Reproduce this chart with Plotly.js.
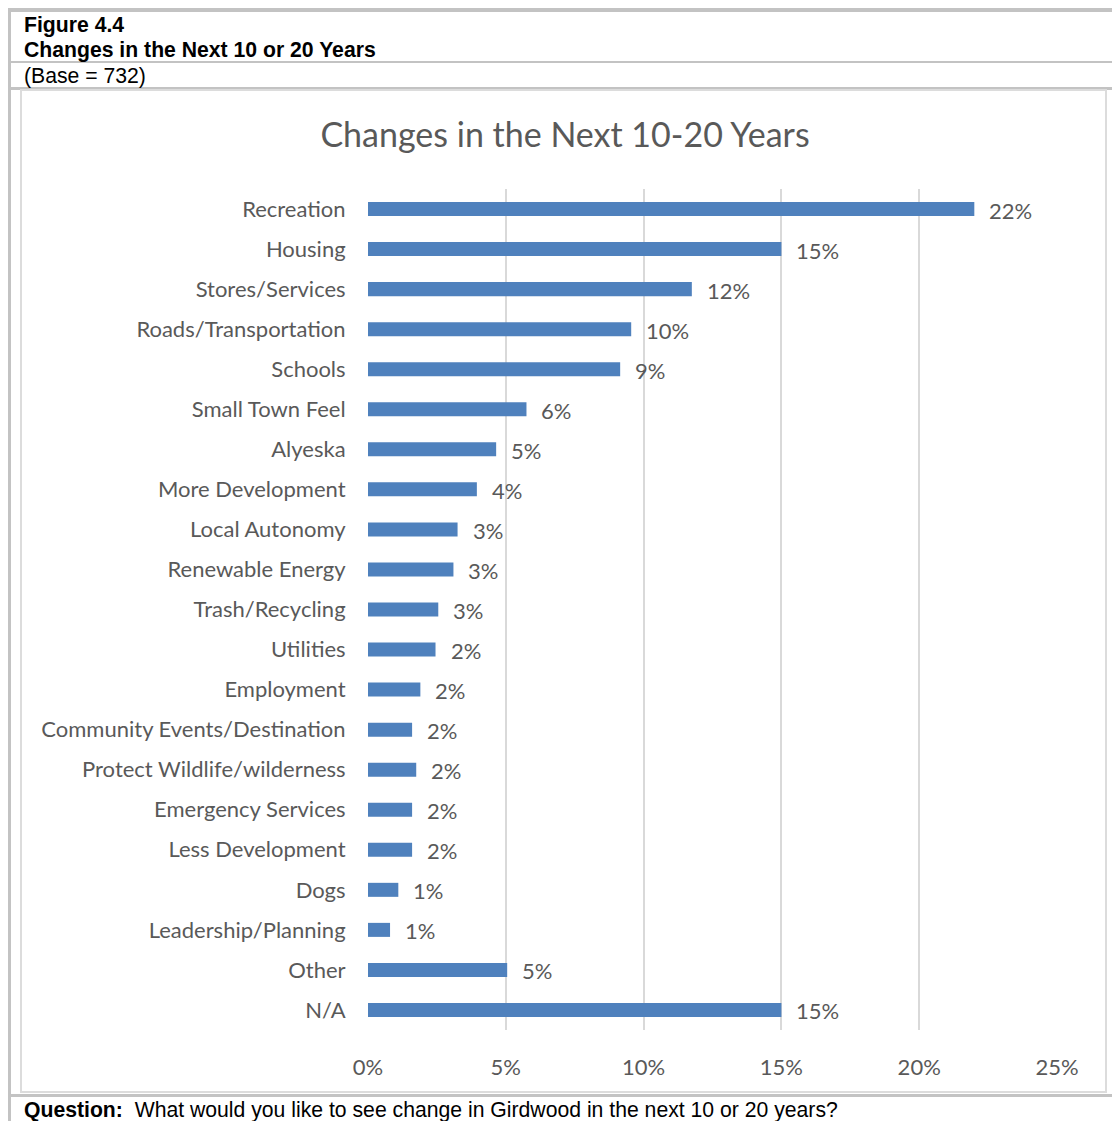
<!DOCTYPE html>
<html>
<head>
<meta charset="utf-8">
<script src="https://cdn.plot.ly/plotly-3.0.1.min.js"></script>
<style>
  html, body { margin: 0; padding: 0; background: #ffffff; }
  #chart { width: 1112px; height: 1121px; }
</style>
</head>
<body>
<div id="chart"></div>
<script>
// ---- Data ----
const categories = [
  "Recreation", "Housing", "Stores/Services", "Roads/Transportation", "Schools",
  "Small Town Feel", "Alyeska", "More Development", "Local Autonomy", "Renewable Energy",
  "Trash/Recycling", "Utilities", "Employment", "Community Events/Destination",
  "Protect Wildlife/wilderness", "Emergency Services", "Less Development", "Dogs",
  "Leadership/Planning", "Other", "N/A"
];
const percentValues = [
  22.0, 15.0, 11.75, 9.55, 9.15,
  5.75, 4.65, 3.95, 3.25, 3.1,
  2.55, 2.45, 1.9, 1.6,
  1.75, 1.6, 1.6, 1.1,
  0.8, 5.05, 15.0
];
const valueLabels = [
  "22%", "15%", "12%", "10%", "9%",
  "6%", "5%", "4%", "3%", "3%",
  "3%", "2%", "2%", "2%",
  "2%", "2%", "2%", "1%",
  "1%", "5%", "15%"
];
const xTickValues = [0, 5, 10, 15, 20, 25];
const xTickLabels = ["0%", "5%", "10%", "15%", "20%", "25%"];

// ---- Layout geometry (pixels) ----
const W = 1112, H = 1121;
const M = { l: 368, r: 55, t: 189, b: 91 };
const PW = W - M.l - M.r, PH = H - M.t - M.b;
const px = x => (x - M.l) / PW;
const py = y => 1 - (y - M.t) / PH;

const frame = "#c3c3c3";
const light = "#dcdcdc";
const textGray = "#595959";
const font = "Lato, 'Open Sans', sans-serif";
const hdrFont = "'Liberation Sans', Arial, sans-serif";
const hdrSize = 21.2;

function rectLine(x0, y0, x1, y1, color) {
  return { type: "rect", xref: "paper", yref: "paper", layer: "below",
    x0: px(x0), x1: px(x1), y0: py(y1), y1: py(y0),
    fillcolor: color, line: { width: 0 } };
}

const shapes = [
  // outer frame
  rectLine(8, 8, 1112, 12, frame),
  rectLine(8, 8, 11, 1121, frame),
  rectLine(11, 61, 1112, 63, frame),
  rectLine(11, 87, 1112, 90, frame),
  rectLine(11, 1094, 1112, 1097, frame),
  // inner chart box
  { type: "rect", xref: "paper", yref: "paper", layer: "below",
    x0: px(21), x1: px(1106), y0: py(1092), y1: py(90),
    fillcolor: "rgba(0,0,0,0)", line: { color: light, width: 2 } }
];

const annotations = [
  { text: "<b>Figure 4.4</b>", x: px(22), y: py(25), xref: "paper", yref: "paper",
    xanchor: "left", yanchor: "middle", showarrow: false,
    font: { family: hdrFont, size: hdrSize, color: "#000" } },
  { text: "<b>Changes in the Next 10 or 20 Years</b>", x: px(22), y: py(50), xref: "paper", yref: "paper",
    xanchor: "left", yanchor: "middle", showarrow: false,
    font: { family: hdrFont, size: hdrSize, color: "#000" } },
  { text: "(Base = 732)", x: px(22), y: py(76), xref: "paper", yref: "paper",
    xanchor: "left", yanchor: "middle", showarrow: false,
    font: { family: hdrFont, size: hdrSize, color: "#000" } },
  { text: "<b>Question:</b>  What would you like to see change in Girdwood in the next 10 or 20 years?",
    x: px(22), y: py(1110), xref: "paper", yref: "paper",
    xanchor: "left", yanchor: "middle", showarrow: false,
    font: { family: hdrFont, size: hdrSize, color: "#000" } }
];

categories.forEach((c, i) => {
  annotations.push({
    x: percentValues[i], y: c, xref: "x", yref: "y",
    text: valueLabels[i], showarrow: false,
    xanchor: "left", yanchor: "middle", xshift: 13, yshift: -1,
    font: { family: font, size: 22, color: textGray }
  });
});

const trace = {
  type: "bar", orientation: "h",
  x: percentValues, y: categories,
  marker: { color: "#4f81bd", line: { width: 0 } },
  hoverinfo: "none"
};

const layout = {
  width: W, height: H,
  margin: M,
  paper_bgcolor: "#ffffff", plot_bgcolor: "#ffffff",
  bargap: 0.65,
  showlegend: false,
  title: {
    text: "Changes in the Next 10-20 Years",
    x: 565 / W, xanchor: "center",
    y: 1 - 135 / H, yanchor: "middle",
    font: { family: font, size: 34, color: textGray }
  },
  xaxis: {
    range: [0, 25], tickvals: xTickValues, ticktext: xTickLabels,
    showgrid: true, gridcolor: "#d9d9d9", gridwidth: 2,
    zeroline: false, showline: false,
    ticks: "outside", ticklen: 18, tickcolor: "rgba(0,0,0,0)",
    tickfont: { family: font, size: 22, color: textGray },
    fixedrange: true
  },
  yaxis: {
    type: "category", autorange: "reversed",
    showgrid: false, zeroline: false, showline: false,
    ticks: "outside", ticklen: 17, tickcolor: "rgba(0,0,0,0)",
    tickfont: { family: font, size: 22, color: textGray },
    fixedrange: true
  },
  shapes: shapes,
  annotations: annotations
};

Plotly.newPlot("chart", [trace], layout, { staticPlot: true, displayModeBar: false });
</script>
</body>
</html>
